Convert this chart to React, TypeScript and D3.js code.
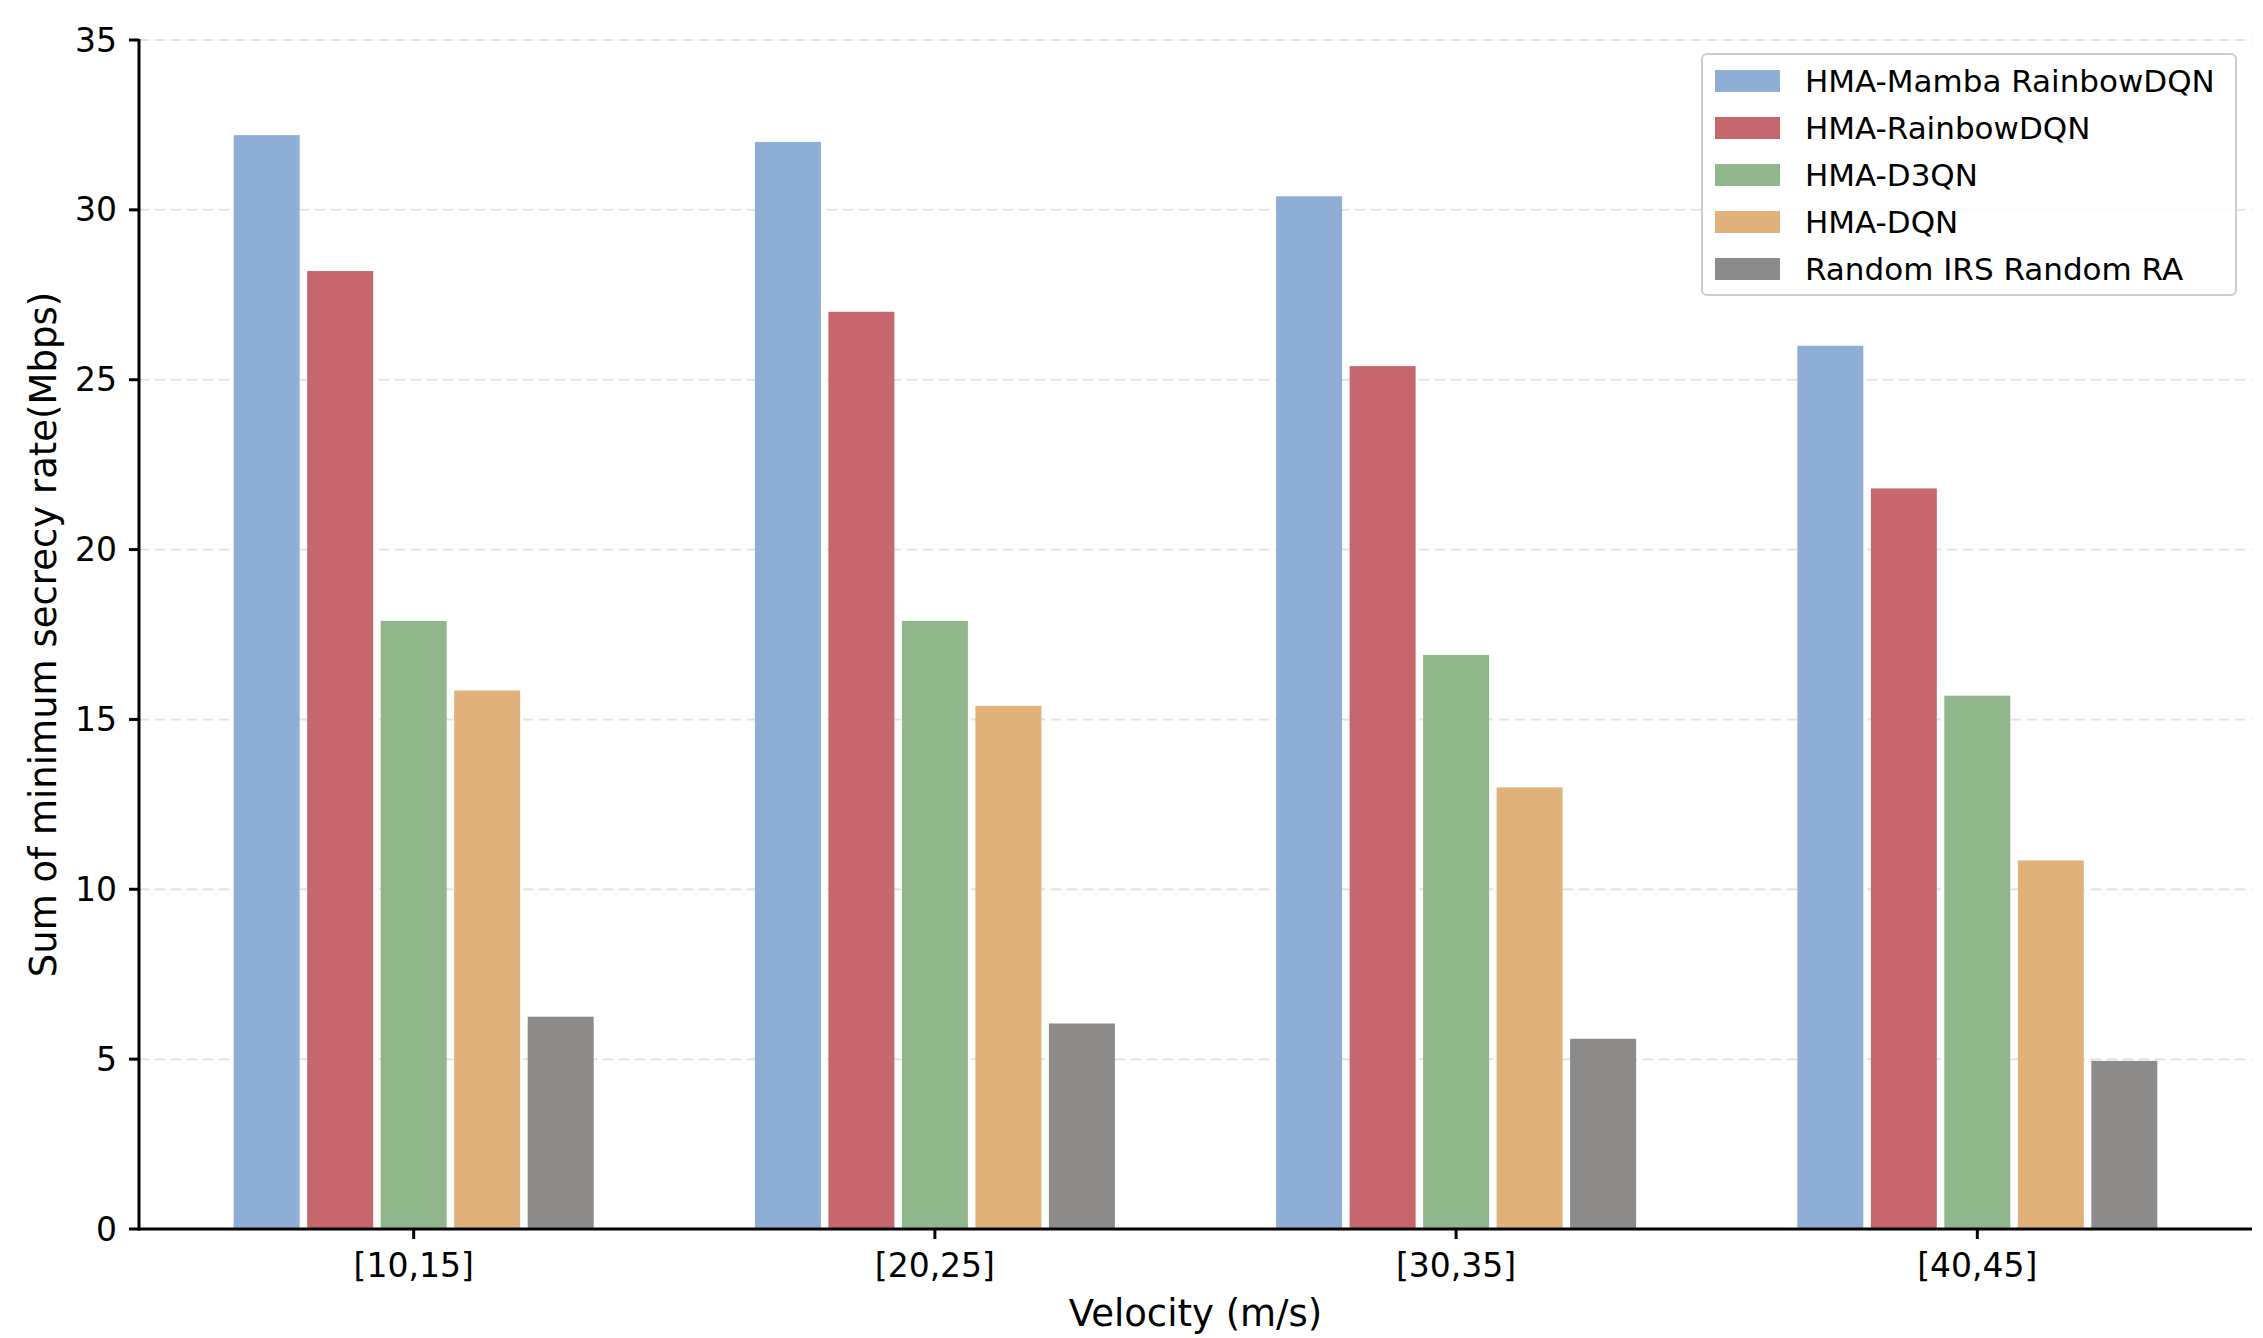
import React from 'react';
import * as d3 from 'd3';

const categories = ['[10,15]', '[20,25]', '[30,35]', '[40,45]'];
const seriesNames = ['HMA-Mamba RainbowDQN', 'HMA-RainbowDQN', 'HMA-D3QN', 'HMA-DQN', 'Random IRS Random RA'];
const seriesColors = ['#8eaed6', '#c6676d', '#90b68b', '#e0b17a', '#8d8a8a'];
const mambaRainbow = [32.2, 32.0, 30.4, 26.0];
const rainbow = [28.2, 27.0, 25.4, 21.8];
const d3qn = [17.9, 17.9, 16.9, 15.7];
const dqn = [15.85, 15.4, 13.0, 10.85];
const randomRA = [6.25, 6.05, 5.6, 4.95];
const yTicks = [0, 5, 10, 15, 20, 25, 30, 35];

const series = [mambaRainbow, rainbow, d3qn, dqn, randomRA];

const W = 2247;
const H = 1328;
const left = 131, right = 2244, top = 32, bottom = 1221;
const font = 'DejaVu Sans, sans-serif';

export default function App() {
  const x = d3.scalePoint<string>().domain(categories).range([left, right]).padding(0.527);
  const y = d3.scaleLinear().domain([0, 35]).range([bottom, top]);
  const barW = 66;
  const step = 73.5;

  return (
    <svg width={W} height={H} style={{ display: 'block', fontFamily: font }}>
      {yTicks.map(t => (
        <g key={t}>
          {t > 0 && (
            <line x1={left} x2={right} y1={y(t)} y2={y(t)} stroke="#e3e3e3" strokeWidth={2} strokeDasharray="10,6" />
          )}
          <line x1={left - 10} x2={left} y1={y(t)} y2={y(t)} stroke="#000" strokeWidth={3} />
          <text x={left - 22} y={y(t)} dy="0.35em" textAnchor="end" fontSize={33}>{t}</text>
        </g>
      ))}
      {series.map((vals, si) =>
        vals.map((v, ci) => {
          const cx = (x(categories[ci]) as number) + (si - 2) * step;
          return (
            <rect key={`${si}-${ci}`} x={cx - barW / 2} y={y(v)} width={barW} height={bottom - y(v)} fill={seriesColors[si]} />
          );
        })
      )}
      <line x1={left} x2={left} y1={top - 1} y2={bottom + 1.5} stroke="#000" strokeWidth={3} />
      <line x1={left - 1.5} x2={right} y1={bottom} y2={bottom} stroke="#000" strokeWidth={3} />
      {categories.map(c => (
        <g key={c}>
          <line x1={x(c)} x2={x(c)} y1={bottom} y2={bottom + 10} stroke="#000" strokeWidth={3} />
          <text x={x(c)} y={bottom + 48} textAnchor="middle" fontSize={33}>{c}</text>
        </g>
      ))}
      <text x={(left + right) / 2} y={1318} textAnchor="middle" fontSize={37}>Velocity (m/s)</text>
      <text transform={`translate(48,${(top + bottom) / 2}) rotate(-90)`} textAnchor="middle" fontSize={37}>
        Sum of minimum secrecy rate(Mbps)
      </text>
      <g>
        <rect x={1694} y={46} width={534} height={241} rx={5} fill="#fff" fillOpacity={0.8} stroke="#cccccc" strokeWidth={2} />
        {seriesNames.map((n, i) => (
          <g key={n}>
            <rect x={1707} y={62 + i * 47} width={65} height={22} fill={seriesColors[i]} />
            <text x={1797} y={73 + i * 47} dy="0.35em" fontSize={31}>{n}</text>
          </g>
        ))}
      </g>
    </svg>
  );
}
